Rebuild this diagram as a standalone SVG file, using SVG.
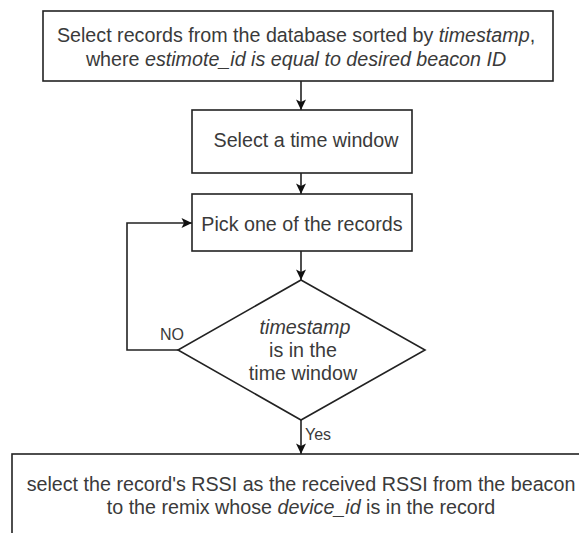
<svg xmlns="http://www.w3.org/2000/svg" width="579" height="533" viewBox="0 0 579 533">
<style>
.box{fill:#fff;stroke:#222;stroke-width:1.6}
.t{font-family:"Liberation Sans",Arial,sans-serif;font-size:19.7px;fill:#3a3a3a;text-anchor:middle}
.lbl{font-family:"Liberation Sans",Arial,sans-serif;font-size:16px;fill:#3a3a3a}
.c{fill:none;stroke:#222;stroke-width:1.6}
</style>
<defs>
<marker id="arr" markerUnits="userSpaceOnUse" markerWidth="12" markerHeight="12" viewBox="0 0 12 12" refX="11" refY="6" orient="auto">
<path d="M0.5,1 L11,6 L0.5,11 L3,6 Z" fill="#111"/>
</marker>
</defs>
<rect width="579" height="533" fill="#fff"/>
<g id="connectors">
<line class="c" x1="301" y1="81" x2="301" y2="110" marker-end="url(#arr)"/>
<line class="c" x1="301" y1="173" x2="301" y2="194" marker-end="url(#arr)"/>
<line class="c" x1="301" y1="251" x2="301" y2="280" marker-end="url(#arr)"/>
<polyline class="c" points="178,350 127,350 127,223 192,223" marker-end="url(#arr)"/>
<line class="c" x1="301" y1="420" x2="301" y2="454" marker-end="url(#arr)"/>
<text class="lbl" x="160" y="340">NO</text>
<text class="lbl" x="305" y="440">Yes</text>
</g>
<g id="select-records">
<rect class="box" x="43" y="11" width="510" height="70"/>
<text class="t" x="296" y="42">Select records from the database sorted by <tspan font-style="italic">timestamp</tspan>,</text>
<text class="t" x="296" y="66">where <tspan font-style="italic">estimote_id is equal to desired beacon ID</tspan></text>
</g>
<g id="select-window">
<rect class="box" x="192" y="110" width="220" height="63"/>
<text class="t" x="306" y="147">Select a time window</text>
</g>
<g id="pick-record">
<rect class="box" x="192" y="194" width="220" height="57"/>
<text class="t" x="302" y="231">Pick one of the records</text>
</g>
<g id="decision">
<polygon class="box" points="301,280 425,350 301,420 178,350"/>
<text class="t" x="305" y="334" font-style="italic">timestamp</text>
<text class="t" x="303" y="357">is in the</text>
<text class="t" x="303" y="380">time window</text>
</g>
<g id="select-rssi">
<rect class="box" x="12" y="454" width="600" height="100"/>
<text class="t" x="301" y="491">select the record's RSSI as the received RSSI from the beacon</text>
<text class="t" x="301" y="514">to the remix whose <tspan font-style="italic">device_id</tspan> is in the record</text>
</g>
</svg>
